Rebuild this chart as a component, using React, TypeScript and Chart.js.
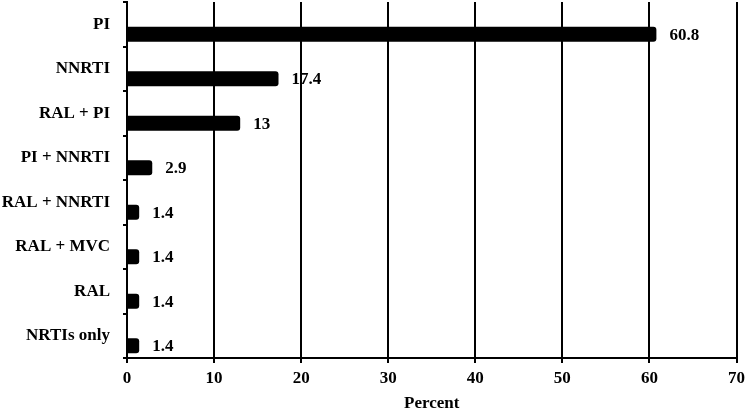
import React, { useEffect, useRef } from "react";
import { Chart, registerables } from "chart.js";

Chart.register(...registerables);

const categories = ["PI", "NNRTI", "RAL + PI", "PI + NNRTI", "RAL + NNRTI", "RAL + MVC", "RAL", "NRTIs only"];
const values = [60.8, 17.4, 13, 2.9, 1.4, 1.4, 1.4, 1.4];
const valueLabels = ["60.8", "17.4", "13", "2.9", "1.4", "1.4", "1.4", "1.4"];
const xTicks = [0, 10, 20, 30, 40, 50, 60, 70];
const axisTitle = "Percent";

const FONT = "'Liberation Serif', 'Times New Roman', serif";

const valueLabelPlugin = {
  id: "valueLabels",
  afterDatasetsDraw(chart: any) {
    const meta = chart.getDatasetMeta(1);
    const ctx = chart.ctx;
    ctx.save();
    ctx.fillStyle = "#000";
    ctx.font = `bold 17px ${FONT}`;
    ctx.textAlign = "left";
    ctx.textBaseline = "middle";
    meta.data.forEach((bar: any, i: number) => {
      ctx.fillText(valueLabels[i], bar.x + 13, bar.y + 1);
    });
    ctx.restore();
  },
};

export default function App() {
  const ref = useRef<HTMLCanvasElement | null>(null);
  useEffect(() => {
    document.body.style.margin = "0";
    const chart = new Chart(ref.current!, {
      type: "bar",
      data: {
        labels: categories,
        datasets: [
          {
            data: categories.map(() => 0),
            backgroundColor: "rgba(0,0,0,0)",
            borderWidth: 0,
          },
          {
            data: values,
            backgroundColor: "#000",
            borderWidth: 0,
            borderRadius: 3,
          },
        ],
      },
      options: {
        indexAxis: "y",
        responsive: false,
        animation: false,
        categoryPercentage: 0.9,
        barPercentage: 0.75,
        layout: { padding: { top: 2, right: 10, left: 0, bottom: 0 } },
        plugins: {
          legend: { display: false },
          tooltip: { enabled: false },
        },
        scales: {
          x: {
            min: 0,
            max: 70,
            afterBuildTicks(scale: any) {
              scale.ticks = xTicks.map((v) => ({ value: v }));
            },
            afterFit(scale: any) {
              scale.height = 54;
            },
            grid: {
              color: "#000",
              lineWidth: 2,
              drawTicks: true,
              tickLength: 5,
            },
            border: { display: true, color: "#000", width: 2 },
            ticks: {
              color: "#000",
              font: { family: FONT, size: 17, weight: "bold" },
              padding: 5,
            },
            title: {
              display: true,
              text: axisTitle,
              color: "#000",
              font: { family: FONT, size: 17, weight: "bold", lineHeight: 1 },
              padding: { top: 0, bottom: 0 },
            },
          },
          y: {
            afterFit(scale: any) {
              scale.width = 127;
              scale.paddingTop = 0;
              scale.paddingBottom = 0;
            },
            grid: {
              display: true,
              drawOnChartArea: false,
              offset: true,
              color: "#000",
              lineWidth: 2,
              tickLength: 4,
            },
            border: { display: true, color: "#000", width: 2 },
            ticks: {
              color: "#000",
              font: { family: FONT, size: 17, weight: "bold" },
              padding: 13,
            },
          },
        },
      },
      plugins: [valueLabelPlugin],
    } as any);
    return () => chart.destroy();
  }, []);
  return <canvas ref={ref} width={750} height={412} style={{ display: "block" }} />;
}
